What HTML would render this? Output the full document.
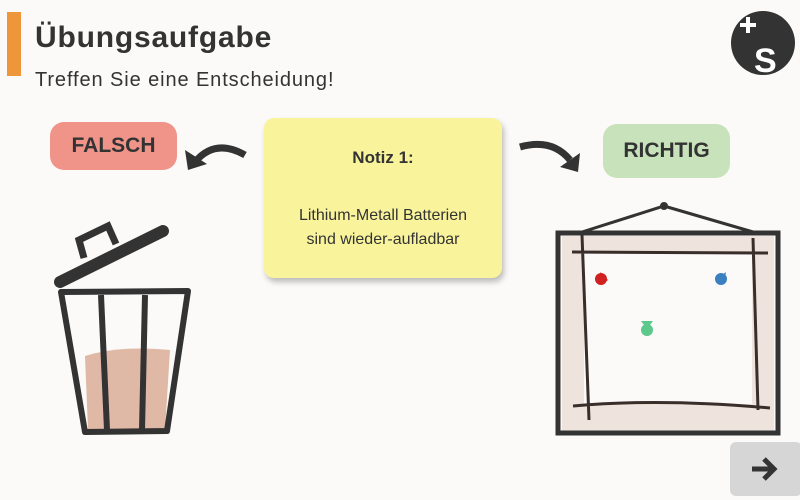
<!DOCTYPE html>
<html><head><meta charset="utf-8"><style>
html,body{margin:0;padding:0}
body{width:800px;height:500px;background:#fbfaf8;position:relative;overflow:hidden;font-family:"Liberation Sans",sans-serif;color:#333}
.bar{position:absolute;left:7px;top:12px;width:14px;height:64px;background:#f0963a}
h1{position:absolute;left:35px;top:21px;margin:0;font-size:30px;font-weight:bold;letter-spacing:0.8px}
.sub{position:absolute;left:35px;top:69px;font-size:20px;color:#333;letter-spacing:0.9px}
.btn{position:absolute;border-radius:14px;font-weight:bold;font-size:21px;display:flex;align-items:center;justify-content:center}
.note{position:absolute;left:264px;top:118px;width:238px;height:160px;background:#f9f49c;border-radius:10px;box-shadow:2px 4px 6px rgba(0,0,0,0.25);text-align:center;font-size:16px}
.next{position:absolute;left:730px;top:442px;width:72px;height:54px;background:#d6d6d6;border-radius:6px}
</style></head><body>
<div class="bar"></div>
<h1>Übungsaufgabe</h1>
<div class="sub">Treffen Sie eine Entscheidung!</div>
<div class="btn" style="left:50px;top:122px;width:127px;height:48px;background:#f0948a">FALSCH</div>
<div class="btn" style="left:603px;top:124px;width:127px;height:54px;background:#c8e3bc">RICHTIG</div>
<div class="note"><div style="font-weight:bold;margin-top:30px;font-size:17px">Notiz 1:</div><div style="margin-top:36px;line-height:24px">Lithium-Metall Batterien<br>sind wieder-aufladbar</div></div>
<div class="next"></div>
<svg width="800" height="500" style="position:absolute;left:0;top:0">
<circle cx="763" cy="43" r="32" fill="#333"/>
<path d="M740 25h16M748 17v16" stroke="#fff" stroke-width="4"/>
<text x="754" y="72" font-size="34" font-weight="bold" fill="#fff" font-family="Liberation Sans">S</text>
<path d="M245 155 Q215 138 195 162" stroke="#333" stroke-width="7" fill="none"/>
<path d="M185 150 L188 170 L207 164 Z" fill="#333"/>
<path d="M520 147 Q552 138 570 160" stroke="#333" stroke-width="7" fill="none"/>
<path d="M580 153 L578 172 L560 167 Z" fill="#333"/>
<rect x="562" y="236" width="212" height="196" fill="#d8b9ad" opacity="0.35"/>
<rect x="584" y="254" width="168" height="150" fill="#fbfaf8"/>
<path d="M582 232 L664 206 L760 234" stroke="#333" stroke-width="3" fill="none"/>
<circle cx="664" cy="206" r="4" fill="#333"/>
<rect x="558" y="233" width="220" height="200" fill="none" stroke="#333" stroke-width="5"/>
<path d="M572 252 L768 253 M582 235 L589 420 M753 238 L758 410 M573 406 Q660 398 770 408" stroke="#3a2e2a" stroke-width="3" fill="none"/>
<path d="M600 272 l8 8 l-6 4 z" fill="#d02020"/><circle cx="601" cy="279" r="6" fill="#d02020"/>
<circle cx="721" cy="279" r="6" fill="#3a7fc0"/><path d="M726 272 l-10 8 l8 4z" fill="#3a7fc0"/>
<circle cx="647" cy="330" r="6" fill="#5cc88a"/><path d="M641 321h12l-6 8z" fill="#5cc88a"/>
<path d="M85 356 Q120 345 170 350 L165 430 L88 430 Z" fill="#d9a791" opacity="0.8"/>
<path d="M61 292 L188 291 L167 431 L85 432 Z" stroke="#333" stroke-width="6" fill="none" stroke-linejoin="round"/>
<path d="M101 295 L107 430 M145 295 L142 430" stroke="#333" stroke-width="6"/>
<path d="M60 282 L163 231" stroke="#333" stroke-width="12" stroke-linecap="round"/>
<path d="M84 258 L79 240 L108 226 L116 244" stroke="#333" stroke-width="7" fill="none"/>
<path d="M752 469h20M764 459l10 10-10 10" stroke="#333" stroke-width="5" fill="none"/>
</svg>
</body></html>
